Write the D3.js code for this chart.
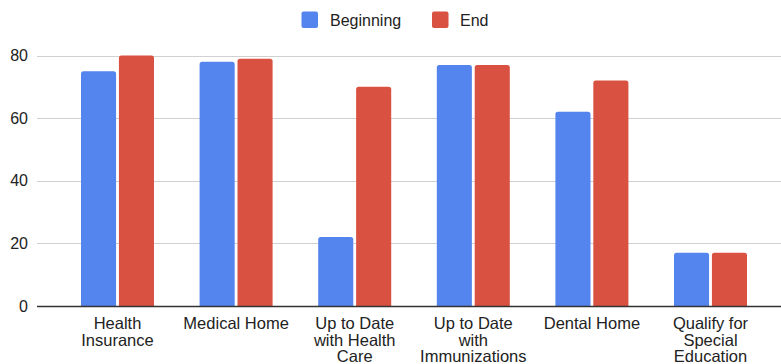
<!DOCTYPE html>
<html>
<head>
<meta charset="utf-8">
<script src="https://cdn.jsdelivr.net/npm/d3@7"></script>
<style>
  html, body { margin: 0; padding: 0; background: #fff; }
  svg { display: block; font-family: Arial, "Liberation Sans", Helvetica, sans-serif; }
</style>
</head>
<body>
<svg id="chart" width="781" height="364"></svg>
<script>
// Child health outcomes, start vs. end of program (percent)
const categories = [
  ["Health", "Insurance"],
  ["Medical Home"],
  ["Up to Date", "with Health", "Care"],
  ["Up to Date", "with", "Immunizations"],
  ["Dental Home"],
  ["Qualify for", "Special", "Education"]
];
const seriesNames = ["Beginning", "End"];
const beginning = [75, 78, 22, 77, 62, 17];
const end = [80, 79, 70, 77, 72, 17];
const yTicks = [0, 20, 40, 60, 80];

const colors = ["#5484ed", "#d95140"];
const series = [beginning, end];

const svg = d3.select("#chart");
const plot = { left: 37, right: 781, top: 55.5, bottom: 306 };

const y = d3.scaleLinear().domain([0, 80]).range([plot.bottom, plot.top]);
const x = d3.scaleBand()
  .domain(d3.range(categories.length))
  .range([58.2, 769.8])
  .paddingInner(0).paddingOuter(0);
const xInner = d3.scaleBand()
  .domain(d3.range(series.length))
  .range([0, 73])
  .paddingInner(0.075);

// Gridlines
const grid = svg.append("g");
grid.selectAll("line")
  .data(yTicks.filter(t => t !== 0))
  .join("line")
  .attr("x1", plot.left).attr("x2", plot.right)
  .attr("y1", d => Math.round(y(d)) + 0.5)
  .attr("y2", d => Math.round(y(d)) + 0.5)
  .attr("stroke", "#d0d0d0").attr("stroke-width", 1);

// Y axis labels
const yAxis = d3.axisLeft(y).tickValues(yTicks).tickSize(0).tickPadding(0);
const yg = svg.append("g").attr("transform", `translate(28,0)`).call(yAxis);
yg.select(".domain").remove();
yg.selectAll("text")
  .attr("font-size", 16)
  .attr("fill", "#222")
  .attr("font-family", "Arial, 'Liberation Sans', sans-serif");

// Bars with rounded top corners
function barPath(x0, w, yTop, yBot, r) {
  r = Math.min(r, w / 2, (yBot - yTop));
  return `M${x0},${yBot}V${yTop + r}Q${x0},${yTop} ${x0 + r},${yTop}` +
    `H${x0 + w - r}Q${x0 + w},${yTop} ${x0 + w},${yTop + r}V${yBot}Z`;
}

const groups = svg.append("g").selectAll("g")
  .data(categories.map((c, i) => i))
  .join("g")
  .attr("transform", i => `translate(${x(i) + (x.bandwidth() - 73) / 2},0)`);

groups.selectAll("path")
  .data(i => series.map((s, k) => ({ k, v: s[i] })))
  .join("path")
  .attr("d", d => barPath(xInner(d.k), xInner.bandwidth(), y(d.v), y(0), 2.5))
  .attr("fill", d => colors[d.k]);

// Baseline
svg.append("line")
  .attr("x1", plot.left).attr("x2", plot.right)
  .attr("y1", y(0) + 0.5).attr("y2", y(0) + 0.5)
  .attr("stroke", "#333").attr("stroke-width", 1.3);

// X axis labels (wrapped)
const xl = svg.append("g");
xl.selectAll("text")
  .data(categories)
  .join("text")
  .attr("text-anchor", "middle")
  .attr("font-size", 16.5)
  .attr("fill", "#222")
  .attr("transform", (d, i) => `translate(${x(i) + x.bandwidth() / 2},329)`)
  .each(function (lines) {
    d3.select(this).selectAll("tspan")
      .data(lines)
      .join("tspan")
      .attr("x", 0)
      .attr("y", (l, j) => j * 16.5)
      .text(l => l);
  });

// Legend
const legendItems = [
  { name: seriesNames[0], color: colors[0], sx: 301.5, tx: 330 },
  { name: seriesNames[1], color: colors[1], sx: 432, tx: 460 }
];
const lg = svg.append("g");
lg.selectAll("rect")
  .data(legendItems)
  .join("rect")
  .attr("x", d => d.sx).attr("y", 11.5)
  .attr("width", 16.5).attr("height", 16.5)
  .attr("rx", 2).attr("fill", d => d.color);
lg.selectAll("text")
  .data(legendItems)
  .join("text")
  .attr("x", d => d.tx).attr("y", 25.5)
  .attr("font-size", 16)
  .attr("fill", "#222")
  .text(d => d.name);
</script>
</body>
</html>
